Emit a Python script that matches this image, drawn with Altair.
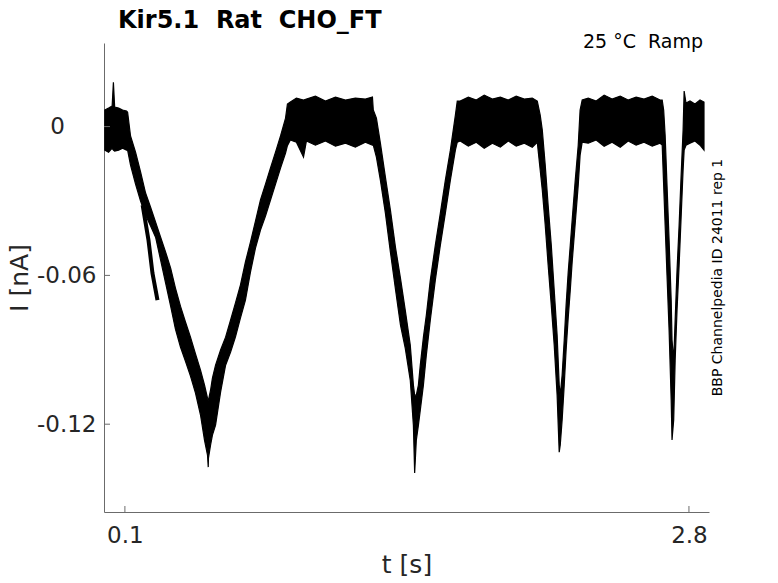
import altair as alt
import pandas as pd

# ---- data (time in s, current in nA) ----
t_s = [0.004, 0.022, 0.039, 0.045, 0.051, 0.070, 0.089, 0.108, 0.113,
       0.127, 0.151, 0.175, 0.199, 0.223, 0.247, 0.271, 0.295, 0.319, 0.342,
       0.366, 0.390, 0.414, 0.438, 0.462, 0.481, 0.4955, 0.499, 0.500,
       0.510, 0.519, 0.534, 0.558, 0.582, 0.606, 0.629, 0.653, 0.677, 0.701,
       0.725, 0.749, 0.773, 0.797, 0.821, 0.845, 0.869, 0.878, 0.892,
       0.921, 0.955, 0.969, 1.012, 1.060, 1.108, 1.156, 1.203, 1.251, 1.285,
       1.289, 1.304, 1.323, 1.347, 1.371, 1.395, 1.419, 1.442, 1.466, 1.481,
       1.487, 1.495, 1.505, 1.514, 1.529, 1.543, 1.562, 1.586, 1.610, 1.634,
       1.658, 1.682, 1.691,
       1.705, 1.744, 1.782, 1.820, 1.859, 1.897, 1.935, 1.973, 2.012, 2.050, 2.074,
       2.078, 2.088, 2.098, 2.112, 2.126, 2.141, 2.155, 2.169, 2.179, 2.184,
       2.193, 2.203, 2.212, 2.222, 2.232, 2.241, 2.255, 2.270, 2.279, 2.289,
       2.318, 2.356, 2.394, 2.432, 2.471, 2.509, 2.547, 2.585, 2.624, 2.662,
       2.672, 2.679, 2.686, 2.695, 2.705, 2.715, 2.719, 2.727, 2.734, 2.743,
       2.753, 2.762, 2.772, 2.777, 2.786,
       2.805, 2.829, 2.853, 2.872]

i_upper = [0.0067, 0.0075, 0.0083, 0.0179, 0.0079, 0.0075, 0.0067, 0.0063, 0.0058,
           -0.0038, -0.0103, -0.0183, -0.0268, -0.0325, -0.0385, -0.0446, -0.0506, -0.0571, -0.0651,
           -0.0724, -0.0788, -0.0849, -0.0917, -0.0982, -0.1042, -0.1095, -0.1103, -0.1103,
           -0.1063, -0.1014, -0.0962, -0.0901, -0.0849, -0.0780, -0.0712, -0.0639, -0.0546, -0.0466,
           -0.0381, -0.0296, -0.0232, -0.0167, -0.0103, -0.0038, 0.0034, 0.0091, 0.0099,
           0.0115, 0.0107, 0.0111, 0.0123, 0.0103, 0.0119, 0.0107, 0.0115, 0.0111, 0.0119,
           0.0067, 0.0034, -0.0067, -0.0204, -0.0337, -0.0486, -0.0611, -0.0740, -0.0881, -0.1042,
           -0.1083, -0.1083, -0.1042, -0.0962, -0.0849, -0.0760, -0.0619, -0.0478, -0.0349, -0.0216,
           -0.0095, 0.0046, 0.0103,
           0.0103, 0.0119, 0.0107, 0.0127, 0.0111, 0.0119, 0.0107, 0.0123, 0.0111, 0.0115, 0.0103,
           0.0087, 0.0046, -0.0014, -0.0155, -0.0317, -0.0478, -0.0659, -0.0841, -0.1042, -0.1083,
           -0.1002, -0.0861, -0.0720, -0.0587, -0.0478, -0.0377, -0.0224, -0.0075, 0.0067, 0.0107,
           0.0115, 0.0103, 0.0127, 0.0111, 0.0123, 0.0107, 0.0119, 0.0111, 0.0123, 0.0107,
           0.0107, 0.0067, -0.0034, -0.0236, -0.0458, -0.0700, -0.0861, -0.0942, -0.0780, -0.0579,
           -0.0397, -0.0208, -0.0014, 0.0143, 0.0095,
           0.0103, 0.0091, 0.0107, 0.0099]

i_lower = [-0.0095, -0.0103, -0.0087, -0.0095, -0.0099, -0.0095, -0.0087, -0.0095, -0.0095,
           -0.0155, -0.0232, -0.0300, -0.0357, -0.0401, -0.0446, -0.0538, -0.0631, -0.0724, -0.0817,
           -0.0889, -0.0946, -0.1006, -0.1075, -0.1163, -0.1264, -0.1325, -0.1373, -0.1337,
           -0.1284, -0.1244, -0.1204, -0.1071, -0.0962, -0.0909, -0.0849, -0.0772, -0.0700, -0.0587,
           -0.0490, -0.0417, -0.0361, -0.0296, -0.0232, -0.0167, -0.0107, -0.0077, -0.0054,
           -0.0063, -0.0123, -0.0058, -0.0075, -0.0058, -0.0079, -0.0067, -0.0083, -0.0063, -0.0075,
           -0.0075, -0.0123, -0.0216, -0.0349, -0.0506, -0.0655, -0.0800, -0.0893, -0.1022, -0.1204,
           -0.1397, -0.1264, -0.1204, -0.1143, -0.1042, -0.0921, -0.0780, -0.0619, -0.0478, -0.0349,
           -0.0216, -0.0095, -0.0063,
           -0.0058, -0.0079, -0.0063, -0.0087, -0.0067, -0.0083, -0.0058, -0.0079, -0.0067, -0.0083, -0.0063,
           -0.0095, -0.0175, -0.0256, -0.0397, -0.0558, -0.0720, -0.0881, -0.1083, -0.1313, -0.1284,
           -0.1183, -0.1042, -0.0901, -0.0772, -0.0659, -0.0546, -0.0397, -0.0236, -0.0115, -0.0063,
           -0.0067, -0.0054, -0.0079, -0.0063, -0.0083, -0.0058, -0.0075, -0.0063, -0.0079, -0.0067,
           -0.0075, -0.0236, -0.0397, -0.0599, -0.0821, -0.1103, -0.1264, -0.1183, -0.0942, -0.0740,
           -0.0558, -0.0377, -0.0175, -0.0095, -0.0075,
           -0.0067, -0.0058, -0.0075, -0.0095]

# second (split) strand on the first down-ramp
strand_t = [0.185, 0.213, 0.232, 0.256]
strand_i = [-0.0317, -0.0458, -0.0591, -0.0700]

x_tick_values = [0.1, 2.8]
y_tick_values = [0, -0.06, -0.12]
zero_label = ["0"]

title_text = "Kir5.1\u00a0\u00a0Rat\u00a0\u00a0CHO_FT"
cond_text = "25\u00a0°C\u00a0\u00a0Ramp"
side_text = "BBP Channelpedia ID 24011 rep 1"

W, H = 605, 469
FONT = "DejaVu Sans"
TXT = "#262626"
AX = "#6b6b6b"

xs = alt.Scale(domain=[0, 2.896], nice=False, zero=False)
ys = alt.Scale(domain=[-0.1554, 0.0337], nice=False, zero=False)

trace = pd.DataFrame({"t": t_s, "hi": i_upper, "lo": i_lower})
strand = pd.DataFrame({"t": strand_t, "hi": strand_i})
xt = pd.DataFrame({"t": x_tick_values})
yt = pd.DataFrame({"hi": y_tick_values})
zl = pd.DataFrame({"hi": [0], "s": zero_label})

band = alt.Chart(trace).mark_area(
    color="black", stroke="black", strokeWidth=1.2, interpolate="linear"
).encode(
    x=alt.X("t:Q", scale=xs,
            axis=alt.Axis(values=x_tick_values, format=".1f", title="t [s]",
                          titleY=60, titleBaseline="alphabetic",
                          labelPadding=12, labelFlush=False)),
    y=alt.Y("hi:Q", scale=ys,
            axis=alt.Axis(values=y_tick_values,
                          labelExpr="datum.value == 0 ? '' : '-' + format(abs(datum.value), '.2f')",
                          title="I [nA]", titleX=-76.5, titleY=234.5,
                          titleBaseline="alphabetic", labelPadding=8)),
    y2="lo:Q",
)

strand_line = alt.Chart(strand).mark_line(color="black", strokeWidth=4).encode(
    x=alt.X("t:Q", scale=xs), y=alt.Y("hi:Q", scale=ys)
)

xticks = alt.Chart(xt).mark_rule(color=AX, strokeWidth=1).encode(
    x=alt.X("t:Q", scale=xs), y=alt.value(H), y2=alt.value(H - 6)
)
yticks = alt.Chart(yt).mark_rule(color=AX, strokeWidth=1).encode(
    y=alt.Y("hi:Q", scale=ys), x=alt.value(0), x2=alt.value(6)
)

zero_mark = alt.Chart(zl).mark_text(
    font=FONT, fontSize=23, align="right", baseline="middle", color=TXT
).encode(text="s:N", y=alt.Y("hi:Q", scale=ys), x=alt.value(-39))

title_mark = alt.Chart(pd.DataFrame({"s": [title_text]})).mark_text(
    font=FONT, fontSize=24, fontWeight="bold", align="left", baseline="alphabetic", color="black"
).encode(text="s:N", x=alt.value(14), y=alt.value(-15.5))

cond_mark = alt.Chart(pd.DataFrame({"s": [cond_text]})).mark_text(
    font=FONT, fontSize=19, align="right", baseline="alphabetic", color="black"
).encode(text="s:N", x=alt.value(599), y=alt.value(5))

side_mark = alt.Chart(pd.DataFrame({"s": [side_text]})).mark_text(
    font=FONT, fontSize=14, angle=270, align="center", baseline="alphabetic", color="black"
).encode(text="s:N", x=alt.value(617.5), y=alt.value(234.5))

chart = alt.layer(
    band, strand_line, xticks, yticks, zero_mark, title_mark, cond_mark, side_mark
).properties(
    width=W, height=H,
    padding={"left": 96, "top": 35, "right": 50, "bottom": 70},
    autosize=alt.AutoSizeParams(type="none"),
).configure_axis(
    domainColor=AX, domainWidth=1, tickSize=0, grid=False,
    labelFont=FONT, labelFontSize=23, labelColor=TXT,
    titleFont=FONT, titleFontSize=25, titleFontWeight="normal", titleColor=TXT,
).configure_view(stroke=None)

chart.save("out.html", embed_options={"renderer": "svg", "actions": False})
